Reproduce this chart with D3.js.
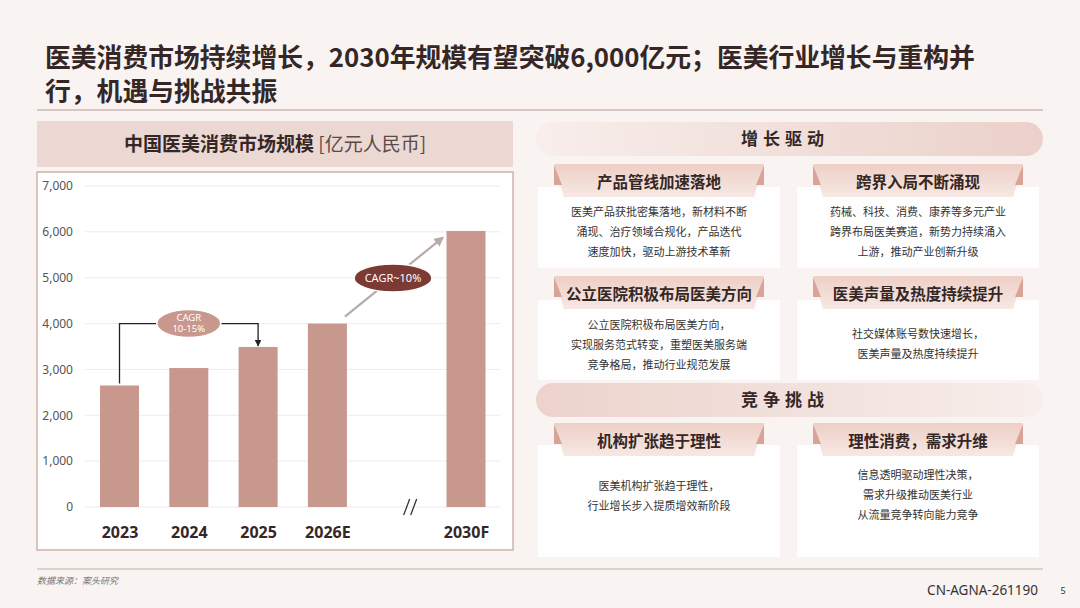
<!DOCTYPE html>
<html>
<head>
<meta charset="utf-8">
<script src="https://cdn.jsdelivr.net/npm/d3@7"></script>
<style>
  body { margin: 0; background: #f9f3f1; }
  svg { display: block; font-family: "Noto Sans CJK SC", "Noto Sans", sans-serif; }
</style>
</head>
<body>
<div id="content"></div>
<script>
// chart data
const years = ["2023", "2024", "2025", "2026E", "2030F"];
const marketSize = [2650, 3030, 3490, 4000, 6020];
const slots = ["2023", "2024", "2025", "2026E", "gap", "2030F"];
const yTicks = [0, 1000, 2000, 3000, 4000, 5000, 6000, 7000];

const titleLines = ["医美消费市场持续增长，2030年规模有望突破6,000亿元；医美行业增长与重构并", "行，机遇与挑战共振"];

// right side cards
const driverTitles = ["产品管线加速落地", "跨界入局不断涌现", "公立医院积极布局医美方向", "医美声量及热度持续提升"];
const driverTexts = [
  ["医美产品获批密集落地，新材料不断", "涌现、治疗领域合规化，产品迭代", "速度加快，驱动上游技术革新"],
  ["药械、科技、消费、康养等多元产业", "跨界布局医美赛道，新势力持续涌入", "上游，推动产业创新升级"],
  ["公立医院积极布局医美方向，", "实现服务范式转变，重塑医美服务端", "竞争格局，推动行业规范发展"],
  ["社交媒体账号数快速增长，", "医美声量及热度持续提升"]
];
const challengeTitles = ["机构扩张趋于理性", "理性消费，需求升维"];
const challengeTexts = [
  ["医美机构扩张趋于理性，", "行业增长步入提质增效新阶段"],
  ["信息透明驱动理性决策，", "需求升级推动医美行业", "从流量竞争转向能力竞争"]
];

const dark = "#352725";
const barColor = "#c8978d";

const svg = d3.select("#content").append("svg")
  .attr("width", 1080)
  .attr("height", 608);

const defs = svg.append("defs");
function lin(id, stops, vertical) {
  const g = defs.append("linearGradient").attr("id", id)
    .attr("x1", 0).attr("y1", 0).attr("x2", vertical ? 0 : 1).attr("y2", vertical ? 1 : 0);
  stops.forEach((c, i) => g.append("stop").attr("offset", i / (stops.length - 1)).attr("stop-color", c));
}
lin("pillA", ["#f8eeeb", "#f1dfda", "#ebd1ca"]);
lin("pillB", ["#ecd3cc", "#f1e0db", "#f8eeeb"]);
lin("tabG", ["#edcfc6", "#f7e8e3"], true);

// ---- title ----
svg.append("g").selectAll("text")
  .data(titleLines)
  .enter().append("text")
  .attr("x", 45)
  .attr("y", (d, i) => 67 + i * 34)
  .style("font-size", "25.8px")
  .style("font-weight", "bold")
  .style("fill", dark)
  .text(d => d);

svg.append("line")
  .attr("x1", 37).attr("x2", 1043).attr("y1", 110).attr("y2", 110)
  .style("stroke", "#cdb7b1").style("stroke-width", 1.5);

// ---- left chart ----
svg.append("rect")
  .attr("x", 37).attr("y", 121).attr("width", 476).attr("height", 46)
  .style("fill", "#ebd8d3");

const head = svg.append("text")
  .attr("x", 275).attr("y", 151)
  .attr("text-anchor", "middle")
  .style("font-size", "19px")
  .style("fill", dark);
head.append("tspan").style("font-weight", "bold").text("中国医美消费市场规模 ");
head.append("tspan").style("fill", "#5a4a48").text("[亿元人民币]");

svg.append("rect")
  .attr("x", 37).attr("y", 172).attr("width", 476).attr("height", 378)
  .style("fill", "#fff")
  .style("stroke", "#cfb2ab").style("stroke-width", 1.5);

const x = d3.scalePoint().domain(slots).range([119.5, 466]);
const y = d3.scaleLinear().domain([0, 7000]).range([507, 186]);
const bw = 39;

svg.append("g").selectAll("line")
  .data(yTicks)
  .enter().append("line")
  .attr("x1", 85).attr("x2", 500)
  .attr("y1", d => y(d)).attr("y2", d => y(d))
  .style("stroke", "#ececec").style("stroke-width", 1);

const yAxis = svg.append("g")
  .attr("transform", "translate(73,0)")
  .call(d3.axisLeft(y).tickValues(yTicks).tickSize(0).tickPadding(0).tickFormat(d3.format(",")));
yAxis.select(".domain").remove();
yAxis.selectAll("text")
  .style("font-family", "\"Noto Sans\", sans-serif")
  .style("font-size", "12px")
  .style("fill", "#555");

svg.append("g").selectAll("rect")
  .data(years.map((k, i) => [k, marketSize[i]]))
  .enter().append("rect")
  .attr("x", d => x(d[0]) - bw / 2)
  .attr("y", d => y(d[1]))
  .attr("width", bw)
  .attr("height", d => y(0) - y(d[1]))
  .style("fill", barColor);

const xAxis = svg.append("g")
  .attr("transform", "translate(0,522)")
  .call(d3.axisBottom(x).tickValues(years).tickSize(0).tickPadding(0));
xAxis.select(".domain").remove();
xAxis.selectAll("text")
  .attr("dy", "1em")
  .style("font-family", "\"Noto Sans\", sans-serif")
  .style("font-size", "16px")
  .style("font-weight", "bold")
  .style("fill", dark);

// axis break //
const bx = x("gap") + 14;
svg.append("g").selectAll("line")
  .data([0, 7])
  .enter().append("line")
  .attr("x1", d => bx - 7 + d).attr("y1", 515)
  .attr("x2", d => bx - 1 + d).attr("y2", 499)
  .style("stroke", "#333").style("stroke-width", 1.3);

// CAGR 10-15% bracket
defs.append("marker").attr("id", "arrK")
  .attr("viewBox", "0 0 10 10").attr("refX", 9).attr("refY", 5)
  .attr("markerWidth", 5).attr("markerHeight", 5).attr("orient", "auto")
  .append("path").attr("d", "M0,0L10,5L0,10z").style("fill", "#222");
defs.append("marker").attr("id", "arrG")
  .attr("viewBox", "0 0 10 10").attr("refX", 8).attr("refY", 5)
  .attr("markerWidth", 4.5).attr("markerHeight", 4.5).attr("orient", "auto")
  .append("path").attr("d", "M0,0L10,5L0,10z").style("fill", "#b7aaa7");

const by = y(4000);
svg.append("path")
  .attr("d", `M${x("2023")},${y(marketSize[0]) - 2}V${by}H${x("2025")}V${y(marketSize[2]) - 1}`)
  .style("fill", "none").style("stroke", "#222").style("stroke-width", 1.3)
  .attr("marker-end", "url(#arrK)");

svg.append("ellipse")
  .attr("cx", x("2024")).attr("cy", by).attr("rx", 32).attr("ry", 14)
  .style("fill", barColor).style("stroke", "#fff").style("stroke-width", 1.5);
svg.append("g").selectAll("text")
  .data(["CAGR", "10-15%"])
  .enter().append("text")
  .attr("x", x("2024"))
  .attr("y", (d, i) => by - 3 + i * 11)
  .attr("text-anchor", "middle")
  .style("font-family", "\"Noto Sans\", sans-serif")
  .style("font-size", "9.5px")
  .style("fill", "#fff")
  .text(d => d);

// CAGR~10% arrow
const ax1 = x("2026E") + bw / 2 - 2, ay1 = y(4150);
const ax2 = x("2030F") - bw / 2 - 4, ay2 = y(5870);
svg.append("line")
  .attr("x1", ax1).attr("y1", ay1).attr("x2", ax2).attr("y2", ay2)
  .style("stroke", "#b7aaa7").style("stroke-width", 2.2)
  .attr("marker-end", "url(#arrG)");
svg.append("ellipse")
  .attr("cx", 393).attr("cy", 278).attr("rx", 39).attr("ry", 14)
  .style("fill", "#7b3a33").style("stroke", "#fff").style("stroke-width", 1.5);
svg.append("text")
  .attr("x", 393).attr("y", 282)
  .attr("text-anchor", "middle")
  .style("font-family", "\"Noto Sans\", sans-serif")
  .style("font-size", "11px")
  .style("fill", "#fff")
  .text("CAGR~10%");

// ---- right panels ----
function pill(yTop, grad, label) {
  svg.append("rect")
    .attr("x", 536).attr("y", yTop).attr("width", 507).attr("height", 34).attr("rx", 17)
    .style("fill", `url(#${grad})`);
  svg.append("text")
    .attr("x", 785).attr("y", yTop + 23)
    .attr("text-anchor", "middle")
    .style("font-size", "17px").style("font-weight", "bold")
    .style("letter-spacing", "5px")
    .style("fill", dark)
    .text(label);
}

function card(cx, cardTop, cardH, tabTop, label, lines, lineY) {
  svg.append("rect")
    .attr("x", cx - 121).attr("y", cardTop).attr("width", 242).attr("height", cardH)
    .style("fill", "#fff").style("opacity", 0.92);
  const l = cx - 105, r = cx + 105, b = tabTop + 33;
  svg.append("path")
    .attr("d", `M${l},${tabTop}L${r},${tabTop}L${r - 10},${b}L${l + 10},${b}Z`)
    .style("fill", "url(#tabG)");
  svg.append("path")
    .attr("d", `M${l},${tabTop + 1}L${l},${tabTop + 21}L${l + 8},${tabTop + 21}Z`)
    .style("fill", "#d9a497");
  svg.append("path")
    .attr("d", `M${r},${tabTop + 1}L${r},${tabTop + 21}L${r - 8},${tabTop + 21}Z`)
    .style("fill", "#d9a497");
  svg.append("text")
    .attr("x", cx).attr("y", tabTop + 24)
    .attr("text-anchor", "middle")
    .style("font-size", "15.5px").style("font-weight", "bold")
    .style("fill", dark)
    .text(label);
  svg.append("g").selectAll("text")
    .data(lines)
    .enter().append("text")
    .attr("x", cx)
    .attr("y", (d, i) => lineY + i * 20)
    .attr("text-anchor", "middle")
    .style("font-size", "11px")
    .style("fill", "#333")
    .text(d => d);
}

const colX = [659, 918];

pill(122, "pillA", "增长驱动");
card(colX[0], 187, 81, 164, driverTitles[0], driverTexts[0], 216);
card(colX[1], 187, 81, 164, driverTitles[1], driverTexts[1], 216);
card(colX[0], 300, 80, 276, driverTitles[2], driverTexts[2], 329);
card(colX[1], 300, 80, 276, driverTitles[3], driverTexts[3], 338);

pill(383, "pillB", "竞争挑战");
card(colX[0], 445, 112, 423, challengeTitles[0], challengeTexts[0], 490);
card(colX[1], 445, 112, 423, challengeTitles[1], challengeTexts[1], 479);

// ---- footer ----
svg.append("line")
  .attr("x1", 37).attr("x2", 1043).attr("y1", 569).attr("y2", 569)
  .style("stroke", "#d6c4bf").style("stroke-width", 1.5);

svg.append("text")
  .attr("x", 37).attr("y", 584)
  .style("font-size", "9px").style("font-style", "italic")
  .style("fill", "#777")
  .text("数据来源：案头研究");

svg.append("text")
  .attr("x", 1038).attr("y", 595)
  .attr("text-anchor", "end")
  .style("font-family", "\"Noto Sans\", sans-serif")
  .style("font-size", "13.5px")
  .style("fill", "#333")
  .text("CN-AGNA-261190");

svg.append("text")
  .attr("x", 1063).attr("y", 594)
  .attr("text-anchor", "middle")
  .style("font-family", "\"Noto Sans\", sans-serif")
  .style("font-size", "9px")
  .style("fill", "#333")
  .text("5");
</script>
</body>
</html>
